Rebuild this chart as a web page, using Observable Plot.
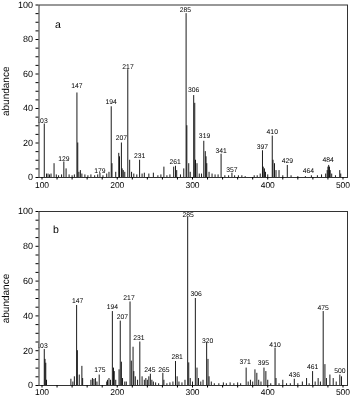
<!DOCTYPE html>
<html><head><meta charset="utf-8">
<script src="https://cdn.jsdelivr.net/npm/d3@7"></script>
<script src="https://cdn.jsdelivr.net/npm/@observablehq/plot@0.6"></script>
<style>
body{margin:0;background:#fff;}
#chart{width:350px;height:396px;overflow:hidden;}
svg{display:block;will-change:transform;}
svg text{text-rendering:geometricPrecision;}
</style></head><body><div id="chart"></div>
<script>
// axis ticks
const xTickLabels = [100, 200, 300, 400, 500];
const xMinorTicks = [100,120,140,160,180,200,220,240,260,280,300,320,340,360,380,400,420,440,460,480,500];
const yTickLabels = [0, 20, 40, 60, 80, 100];
const yMinorTicks = [0,5,10,15,20,25,30,35,40,45,50,55,60,65,70,75,80,85,90,95,100];

// panel a: peak positions (as drawn on the m/z axis) and abundances
const aMz = [103,106,108,110,112,116,119,122,126,129,132,136,140,143,146.4,147.5,149,151,153,157,161,165,170,174,177,181,186,189,192,193,198,202,203,205.5,206.5,208,210,214,216.5,219,222,226,229.7,233,236,242,248,254,258,262,266,270,275,277.4,279,284,288.4,291.5,292.5,295,297,301.6,303,304,306,309,312,315,317,318,319,322,326,330,334,338,343,348,352.4,356,361,365.6,370,382,386,390,393,394,395.6,397,400,406,407,409,411,415,420,426,431,440,450,458,466,471.5,477,479,480,481,482,483,485,490,495.7,497];
const aAb = [31,2,2,1.5,2,8,1.5,1,1.5,9,5,1.5,1,1.5,49,20,3,4,2,1.5,1,1.5,1,1.5,2.5,1,2,3,41,8,3,14,12,20,5,4,3,62.5,10,3,2,1.5,10,2,2.5,2,2.5,1,1.5,6,1,1.5,6,6.5,4,1.5,5,95,30,8,3,47.5,43,10,8,2,2,21,15,12,8,3,2,1.5,1.5,13.5,1,1,2.5,1,1,1,0.5,1,1,2,15.5,6,5,3,1.5,24,10,8,4,4,1,7,1,0.5,0.5,1,1,1.5,2,4,6,7,6,4,2,1,4,2];
const aLabelMz = [100,129,146.4,177,192,205.6,214.3,229.7,277,290.6,301.6,316,338,352.4,393,406,426,454,480.3];
const aLabelAb = [32.8,10.9,52.9,4,43.9,23.2,64.4,12.6,9.2,97.1,51,24.1,15.5,4.6,18,26.6,9.4,4,10.2];
const aLabelText = ["103","129","147","179","194","207","217","231","261","285","306","319","341","357","397","410","429","464","484"];

// panel b
const bMz = [103,104,105,106,138.4,141,143,146,147,149.5,153,154,165,167,169,171,173,176,186,187,189,191,193.5,195,196,198,202.4,204,205.5,207,210,212,217,218.7,221,222,224,227,230,233,236,238,240,242,244,246,248,251,255,260.6,262,266,270,274,277.4,279.6,282,286,290,293.6,295,297,300,303.8,306,308,311,314,318.8,320.6,322,325,329,335,341,345,350,355,360,364,371.3,374,377,380,383,385.5,388,391,395,397.5,400,404,409.7,411,415,420,425,430,435.3,440,446,451.6,455,459.6,463,467,470,473.7,476,478,482.6,487,491,495.8,498];
const bAb = [20.7,15,12.8,3,3.6,2,5,46,20,6,11,4,3,4,3.5,4,2,6,2,3,4,3,42.5,10,8,3,9,37,13.4,4,2,2,48,14,22,8,5,3,25,5,3,4,3,5,6.5,3,2,1.5,1,7,3,1,1.5,2,13.8,5,2,1.5,3,96.7,13,4,2,50,10,4,2,3,24.3,15,5,2,1,1,1.5,1,1.5,1,1.5,1,10,2,3,2,9,7,3,2,10,8,3,1,21.5,4,1,3,1,1,3.6,1,2,4,1,8,2,4,2,42.5,12,4,6,4,2,6,5];
const bLabelMz = [100,147.3,176.8,193.6,206.8,215.6,228.8,243.4,261.9,279.6,294.1,304.8,320.1,370,394.2,409.7,435.3,459.6,473.7,495.8];
const bLabelAb = [22.8,48.9,9.2,45.4,39.3,50.6,27.2,9,9,16.3,98.1,52.5,25.9,13.4,13.2,23.4,6.1,10.9,44.8,8.6];
const bLabelText = ["103","147","175","194","207","217","231","245","265","281","285","306","320","371","395","410","436","461","475","500"];

const panelNames = ["a", "b"];
const panelNameMz = [121, 118.5];
const panelNameAb = [88.5, 89.5];

const FONT = "'Liberation Sans', Arial, Helvetica, sans-serif";

function panel(i, mz, ab, labMz, labAb, labText, opts) {
  const peaks = mz.map((m, k) => ({m, a: ab[k]}));
  const labels = labMz.map((m, k) => ({m, a: labAb[k], t: labText[k]}));
  return Plot.plot({
    width: 350,
    height: opts.height,
    marginTop: opts.top,
    marginBottom: opts.bottom,
    marginLeft: 38.5,
    marginRight: 3,
    style: {fontFamily: FONT, fontSize: "8.5px", background: "white", color: "black"},
    x: {domain: [96, 506]},
    y: {domain: [0, 100]},
    marks: [
      Plot.ruleX(peaks, {x: "m", y1: 0, y2: "a", stroke: "black", strokeWidth: 0.9}),
      Plot.ruleY([0], {stroke: "black", strokeWidth: 1}),
      Plot.text(labels, {x: "m", y: "a", text: "t", fontSize: 6.8, lineAnchor: "middle", clip: true, fill: "black"}),
      Plot.text([panelNames[i]], {x: [panelNameMz[i]], y: [panelNameAb[i]], text: d => d, fontSize: 10.5, lineAnchor: "middle", fill: "black"}),
      Plot.frame({stroke: "#333", strokeWidth: 1}),
      Plot.axisX({ticks: xMinorTicks, tickFormat: d => xTickLabels.includes(d) ? String(d) : "", tickSize: 2.5, tickPadding: opts.xpad, label: null, fontSize: 8.5}),
      Plot.axisY({ticks: yMinorTicks, tickFormat: d => yTickLabels.includes(d) ? String(d) : "", tickSize: 3, tickPadding: 3, label: "abundance", labelAnchor: "center", labelArrow: "none", labelOffset: 37, fontSize: 9})
    ]
  });
}

const root = document.getElementById("chart");
root.appendChild(panel(0, aMz, aAb, aLabelMz, aLabelAb, aLabelText, {height: 200, top: 4.5, bottom: 23, xpad: 1.5}));
root.appendChild(panel(1, bMz, bAb, bLabelMz, bLabelAb, bLabelText, {height: 196, top: 11, bottom: 11, xpad: 0.5}));
// y-axis title font size
document.querySelectorAll("svg [aria-label='y-axis label'] text").forEach(t => t.setAttribute("font-size", "10"));
</script>
</body></html>
